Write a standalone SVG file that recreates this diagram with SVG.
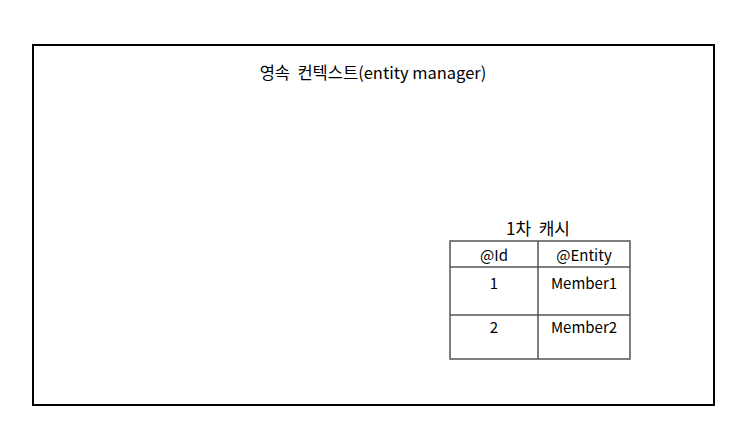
<svg xmlns="http://www.w3.org/2000/svg" width="753" height="437" viewBox="0 0 753 437">
<style>
.t{font-family:"Noto Sans CJK KR","Liberation Sans",sans-serif;font-size:15px;fill:#000;text-anchor:middle}
.c{fill:none;stroke:#555;stroke-width:1.5}
</style>
<rect width="753" height="437" fill="#fff"/>
<g id="context">
<rect x="33" y="45" width="681" height="360" fill="none" stroke="#000" stroke-width="2"/>
<text class="t" x="373" y="79" style="font-size:16.5px" xml:space="preserve">영속  컨텍스트(entity manager)</text>
</g>
<g id="cache">
<text class="t" x="538" y="235" style="font-size:17px" xml:space="preserve">1차  캐시</text>
<rect class="c" x="450" y="241" width="180" height="118"/>
<line class="c" x1="538" y1="241" x2="538" y2="359"/>
<line class="c" x1="450" y1="267" x2="630" y2="267"/>
<line class="c" x1="450" y1="315" x2="630" y2="315"/>
<text class="t" x="494" y="261">@Id</text>
<text class="t" x="584" y="261">@Entity</text>
<text class="t" x="494" y="289">1</text>
<text class="t" x="584" y="289">Member1</text>
<text class="t" x="494" y="333">2</text>
<text class="t" x="584" y="333">Member2</text>
</g>
</svg>
